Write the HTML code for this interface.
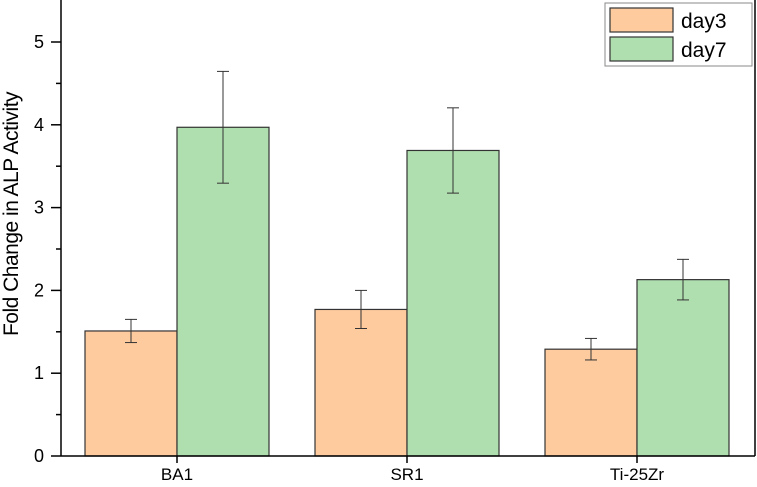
<!DOCTYPE html>
<html><head><meta charset="utf-8"><style>
body{margin:0;background:#fff}
svg{display:block;font-family:"Liberation Sans",sans-serif}
</style></head><body>
<svg id="c" width="757" height="487"></svg>
<script>
const categories=["BA1","SR1","Ti-25Zr"];
const day3=[1.51,1.77,1.29];
const day3Err=[0.14,0.23,0.13];
const day7=[3.97,3.69,2.13];
const day7Err=[0.675,0.515,0.245];
const yTicks=[0,1,2,3,4,5];
const NS="http://www.w3.org/2000/svg";
const svg=document.getElementById('c');
const x0=61,y0=456,yUnit=82.8,catStart=177,catStep=230,barW=92;
const y=v=>y0-v*yUnit;
const cx=i=>catStart+i*catStep;
function mk(t,a,p){const e=document.createElementNS(NS,t);for(const k in a)e.setAttribute(k,a[k]);(p||svg).appendChild(e);return e;}
function bar(v,err,left,fill,name){
  const r=mk('rect',{x:left,y:y(v),width:barW,height:y0-y(v),fill:fill,stroke:'#333','stroke-width':1.2});
  
  
  const xm=left+barW/2,g=mk('g',{stroke:'#333','stroke-width':1});
  
  
  mk('line',{x1:xm,x2:xm,y1:y(v+err),y2:y(v-err)},g);
  mk('line',{x1:xm-6,x2:xm+6,y1:y(v+err),y2:y(v+err)},g);
  mk('line',{x1:xm-6,x2:xm+6,y1:y(v-err),y2:y(v-err)},g);
}
categories.forEach((c,i)=>{
  bar(day3[i],day3Err[i],cx(i)-barW,'#fecb9f','bar-day3-'+c.toLowerCase());
  bar(day7[i],day7Err[i],cx(i),'#b0dfaf','bar-day7-'+c.toLowerCase());
  const t=mk('line',{x1:cx(i),x2:cx(i),y1:y0,y2:y0+7,stroke:'#000','stroke-width':1.5});
  
  
  const l=mk('text',{x:cx(i),y:y0+24,'text-anchor':'middle','font-size':17});
  l.textContent=c;
  
  
});
const ax=mk('g',{stroke:'#000','stroke-width':1.5});


mk('line',{x1:x0,x2:x0,y1:0,y2:y0},ax);
mk('line',{x1:x0,x2:755,y1:y0,y2:y0},ax);
mk('line',{x1:755,x2:755,y1:0,y2:y0},ax);
yTicks.forEach(v=>{
  mk('line',{x1:x0-10,x2:x0,y1:y(v),y2:y(v)},ax);
  if(v<5)mk('line',{x1:x0-5,x2:x0,y1:y(v+0.5),y2:y(v+0.5)},ax);
  const t=mk('text',{x:x0-17,y:y(v)+6,'text-anchor':'end','font-size':18});
  t.textContent=v;
  
  
});
const yt=mk('text',{x:18,y:214,'text-anchor':'middle','font-size':21,transform:'rotate(-90 18 214)','letter-spacing':'-0.5'});
yt.textContent='Fold Change in ALP Activity';


const lg=mk('g',{});


mk('rect',{x:605,y:3,width:147,height:63,fill:'#fff',stroke:'#888','stroke-width':1},lg);
[['day3','#fecb9f'],['day7','#b0dfaf']].forEach((d,i)=>{
  mk('rect',{x:610,y:8+i*29,width:63,height:24,fill:d[1],stroke:'#333','stroke-width':1.2},lg);
  const t=mk('text',{x:681,y:28+i*29,'font-size':21},lg);
  t.textContent=d[0];
  
  
});
</script>
</body></html>
